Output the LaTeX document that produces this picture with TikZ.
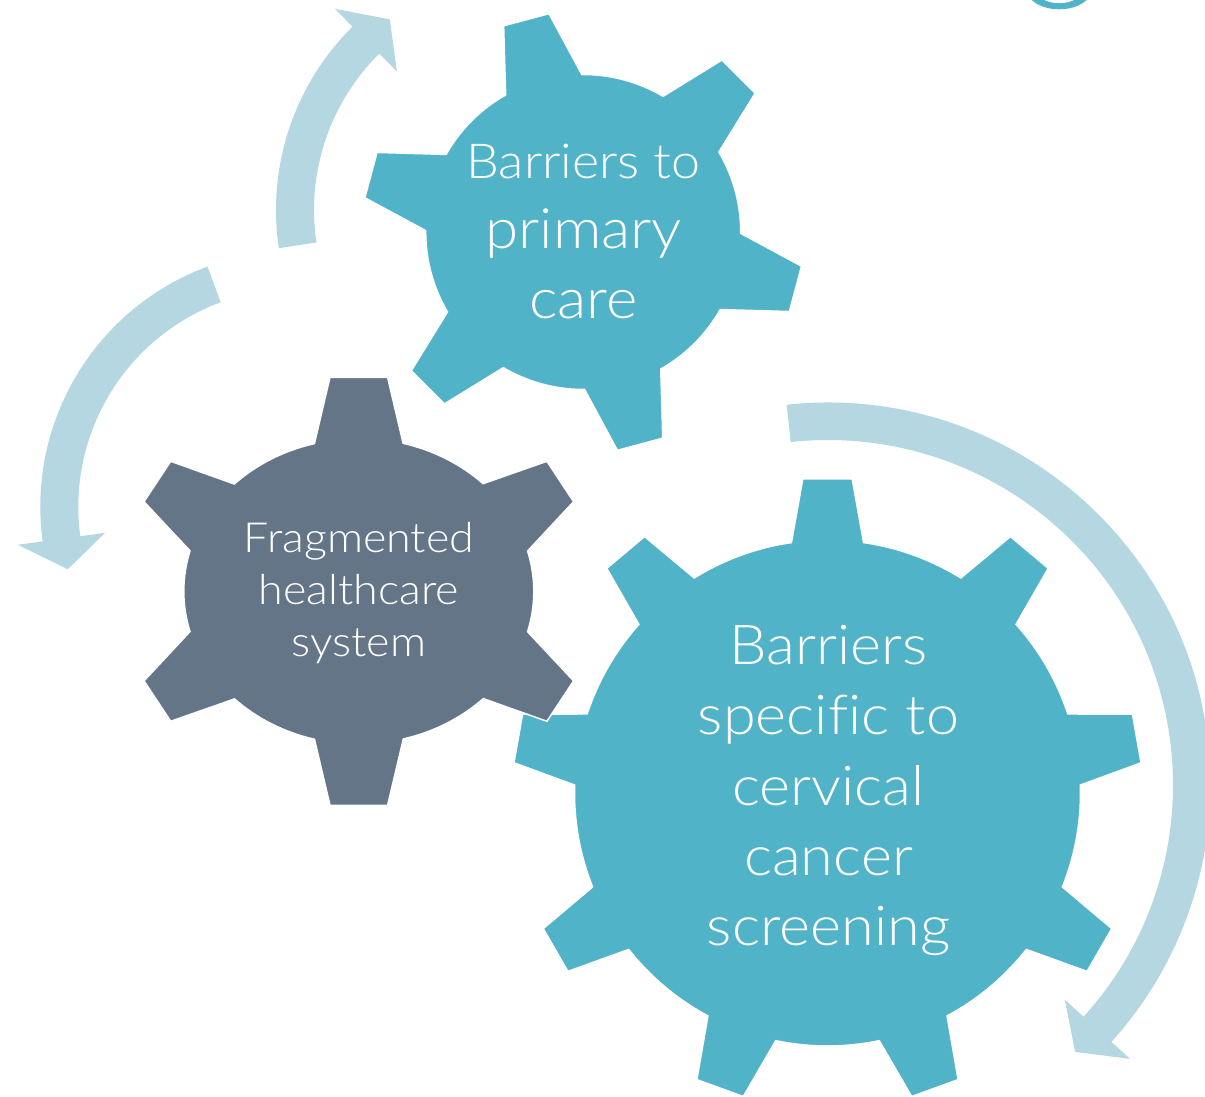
\documentclass[tikz,border=0pt]{standalone}
\usepackage{fontspec}
\IfFontExistsTF{Lato Light}
  {\setmainfont{Lato Light}[Ligatures=NoCommon, FakeStretch=1.08]}
  {\setmainfont{Carlito}[Ligatures=NoCommon]}

\definecolor{gearteal}{HTML}{51B3C8}
\definecolor{gearslate}{HTML}{657588}
\definecolor{arrowblue}{HTML}{B5D7E1}

% circular arrow: centre x, centre y, inner r, outer r, tail angle, head-base angle, tip angle
\newcommand\ringarrow[7]{%
  \begin{scope}[shift={(#1,#2)}]
    \pgfmathsetmacro\ringmid{(#3+#4)/2}
    \pgfmathsetmacro\ringhi{\ringmid+44}
    \pgfmathsetmacro\ringlo{\ringmid-44}
    \fill[cyclearrow] (#5:#4pt) arc[start angle=#5, end angle=#6, radius=#4pt]
      -- (#6:\ringhi pt) -- (#7:\ringmid pt) -- (#6:\ringlo pt)
      -- (#6:#3pt) arc[start angle=#6, end angle=#5, radius=#3pt] -- cycle;
  \end{scope}}

\begin{document}
\begin{tikzpicture}[x=1pt, y=1pt,
  cyclearrow/.style={fill=arrowblue},
  gearbody/.style={fill=#1, draw=white, line width=1.5pt, line join=miter},
  geartext/.style={text=white, inner sep=0pt, anchor=base}]

\clip (0,0) rectangle (1205,1097);
\fill[white] (0,0) rectangle (1205,1097);

% descender of a cropped title letter
\fill[gearteal, even odd rule]
  (1059.2,1109) ellipse [x radius=33.3pt, y radius=21.3pt]
  (1059.2,1109) ellipse [x radius=24.2pt, y radius=15.3pt];

% cycle arrows
\ringarrow{534}{887}{220}{258}{188.5}{134.7}{127.1}
\ringarrow{296.3}{590.3}{218}{256}{110.3}{187.8}{195.3}
\ringarrow{828}{312}{345}{382.5}{96.2}{-42.2}{-47.2}

% large nine-tooth gear
\begin{scope}[shift={(827.5,304)}]
  \filldraw[gearbody=gearteal] (98.2:253pt)
    \foreach \a in {90,50,...,-230} {
      -- (\a+4.5:315pt) -- (\a-4.5:315pt) -- (\a-8.2:253pt)
      arc[start angle=\a-8.2, end angle=\a-31.8, radius=253pt]
    } -- cycle;
\end{scope}

% upper six-tooth gear
\begin{scope}[shift={(583.2,865)}]
  \filldraw[gearbody=gearteal] (119.5:157.5pt)
    \foreach \a in {105,45,-15,-75,-135,-195} {
      -- (\a+6.1:221pt) -- (\a-6.1:221pt) -- (\a-14.5:157.5pt)
      arc[start angle=\a-14.5, end angle=\a-45.5, radius=157.5pt]
    } -- cycle;
\end{scope}

% left six-tooth gear
\begin{scope}[shift={(358.8,505.7)}]
  \filldraw[gearbody=gearslate]
    (-44.3,148) -- (-28.8,214) -- (28.8,214) -- (44.3,148)
    arc[start angle=75.3, end angle=44.7, x radius=175pt, y radius=153pt]
    -- (188.1,130) -- (214.8,89.6) -- (168.8,40.3)
    arc[start angle=15.3, end angle=-15.3, x radius=175pt, y radius=153pt]
    -- (214.8,-89.6) -- (188.1,-130) -- (124.5,-107.3)
    arc[start angle=-44.7, end angle=-75.3, x radius=175pt, y radius=153pt]
    -- (28.8,-214) -- (-28.8,-214) -- (-44.3,-148)
    arc[start angle=-104.7, end angle=-135.3, x radius=175pt, y radius=153pt]
    -- (-188.1,-130) -- (-214.8,-89.6) -- (-168.8,-40.3)
    arc[start angle=-164.7, end angle=-195.3, x radius=175pt, y radius=153pt]
    -- (-214.8,89.6) -- (-188.1,130) -- (-124.5,107.3)
    arc[start angle=-224.7, end angle=-255.3, x radius=175pt, y radius=153pt]
    -- cycle;
\end{scope}

% gear labels
\node[geartext, font=\fontsize{48.2}{70}\selectfont] (primary) at (583.5,918)
  {\begin{tabular}[t]{@{}c@{}}Barriers to\\{\fontsize{55.7}{70}\selectfont primary}\\{\fontsize{55.7}{70}\selectfont care}\end{tabular}};
\node[geartext, font=\fontsize{41.5}{52}\selectfont] (fragmented) at (359,544.7)
  {\begin{tabular}[t]{@{}c@{}}Fragmented\\healthcare\\system\end{tabular}};
\node[geartext, font=\fontsize{55}{70.3}\selectfont] (screening) at (828.5,432.5)
  {\begin{tabular}[t]{@{}c@{}}Barriers\\specific to\\cervical\\cancer\\screening\end{tabular}};

\end{tikzpicture}
\end{document}
